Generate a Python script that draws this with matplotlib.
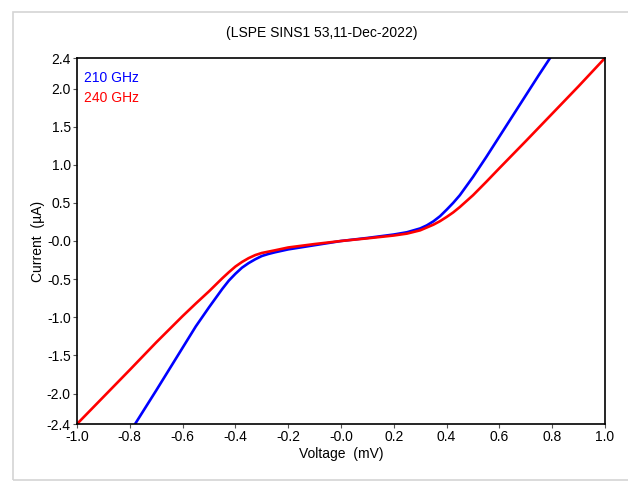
import matplotlib
matplotlib.use('Agg')
import matplotlib.pyplot as plt
from matplotlib.patches import Rectangle

plt.rcParams['font.family'] = ['Liberation Sans', 'DejaVu Sans']

# IV curves (V in mV, I in uA)
v_210 = [-0.78, -0.7, -0.65, -0.6, -0.55, -0.5, -0.45, -0.425, -0.4, -0.375, -0.35,
         -0.325, -0.3, -0.275, -0.25, -0.2, -0.1, 0.0, 0.1, 0.2, 0.25, 0.3, 0.325,
         0.35, 0.375, 0.4, 0.425, 0.45, 0.5, 0.55, 0.6, 0.65, 0.7, 0.75, 0.792]
i_210 = [-2.4, -1.96, -1.68, -1.40, -1.12, -0.87, -0.63, -0.52, -0.43, -0.35, -0.29,
         -0.24, -0.197, -0.17, -0.148, -0.11, -0.055, 0.0, 0.04, 0.085, 0.115, 0.165, 0.205,
         0.258, 0.325, 0.41, 0.50, 0.60, 0.84, 1.10, 1.37, 1.64, 1.91, 2.18, 2.4]

v_240 = [-1.0, -0.9, -0.8, -0.7, -0.6, -0.55, -0.5, -0.45, -0.425, -0.4, -0.375,
         -0.35, -0.325, -0.3, -0.25, -0.2, -0.1, 0.0, 0.1, 0.2, 0.25, 0.3, 0.35,
         0.375, 0.4, 0.425, 0.45, 0.5, 0.55, 0.6, 0.7, 0.8, 0.9, 1.0]
i_240 = [-2.4, -2.045, -1.69, -1.33, -0.985, -0.82, -0.66, -0.49, -0.41, -0.335, -0.275,
         -0.225, -0.185, -0.157, -0.122, -0.085, -0.04, 0.0, 0.035, 0.072, 0.097, 0.14, 0.214,
         0.26, 0.315, 0.375, 0.445, 0.60, 0.775, 0.955, 1.31, 1.67, 2.03, 2.4]

xticks = [-1.0, -0.8, -0.6, -0.4, -0.2, 0.0, 0.2, 0.4, 0.6, 0.8, 1.0]
xlabels = ['-1.0', '-0.8', '-0.6', '-0.4', '-0.2', '-0.0', '0.2', '0.4', '0.6', '0.8', '1.0']
yticks = [2.4, 2.0, 1.5, 1.0, 0.5, 0.0, -0.5, -1.0, -1.5, -2.0, -2.4]
ylabels = ['2.4', '2.0', '1.5', '1.0', '0.5', '-0.0', '-0.5', '-1.0', '-1.5', '-2.0', '-2.4']

fs = 10

fig = plt.figure(figsize=(6.28, 4.82), dpi=100)
ax = fig.add_axes([77 / 628, 1 - 424 / 482, 528 / 628, 366 / 482])

# light grey frame around the window
fig.patches.append(Rectangle((13 / 628, 1 - 480 / 482), 1.0, 468 / 482,
                             transform=fig.transFigure, fill=False,
                             edgecolor='#d4d4d4', linewidth=1.2))

ax.plot(v_210, i_210, color='#0000ff', lw=1.9)
ax.plot(v_240, i_240, color='#ff0000', lw=1.9)

ax.set_xlim(-1.0, 1.0)
ax.set_ylim(-2.4, 2.4)
ax.set_xticks(xticks)
ax.set_xticklabels(xlabels)
ax.set_yticks(yticks)
ax.set_yticklabels(ylabels)
ax.tick_params(axis='both', direction='out', length=3, width=0.8,
               labelsize=fs, color='#555555', pad=1.5)

for s in ax.spines.values():
    s.set_linewidth(1.2)
    s.set_color('black')

ax.set_xlabel('Voltage  (mV)', fontsize=fs, labelpad=2)
ax.set_ylabel('Current  (µA)', fontsize=fs, labelpad=1)
fig.text(322 / 628, 1 - 33 / 482, '(LSPE SINS1 53,11-Dec-2022)', fontsize=fs,
         ha='center', va='center')

ax.text(0.013, 0.965, '210 GHz', transform=ax.transAxes, color='#0000ff',
        fontsize=fs, va='top', ha='left')
ax.text(0.013, 0.91, '240 GHz', transform=ax.transAxes, color='#ff0000',
        fontsize=fs, va='top', ha='left')

fig.savefig('out.png', dpi=100)
